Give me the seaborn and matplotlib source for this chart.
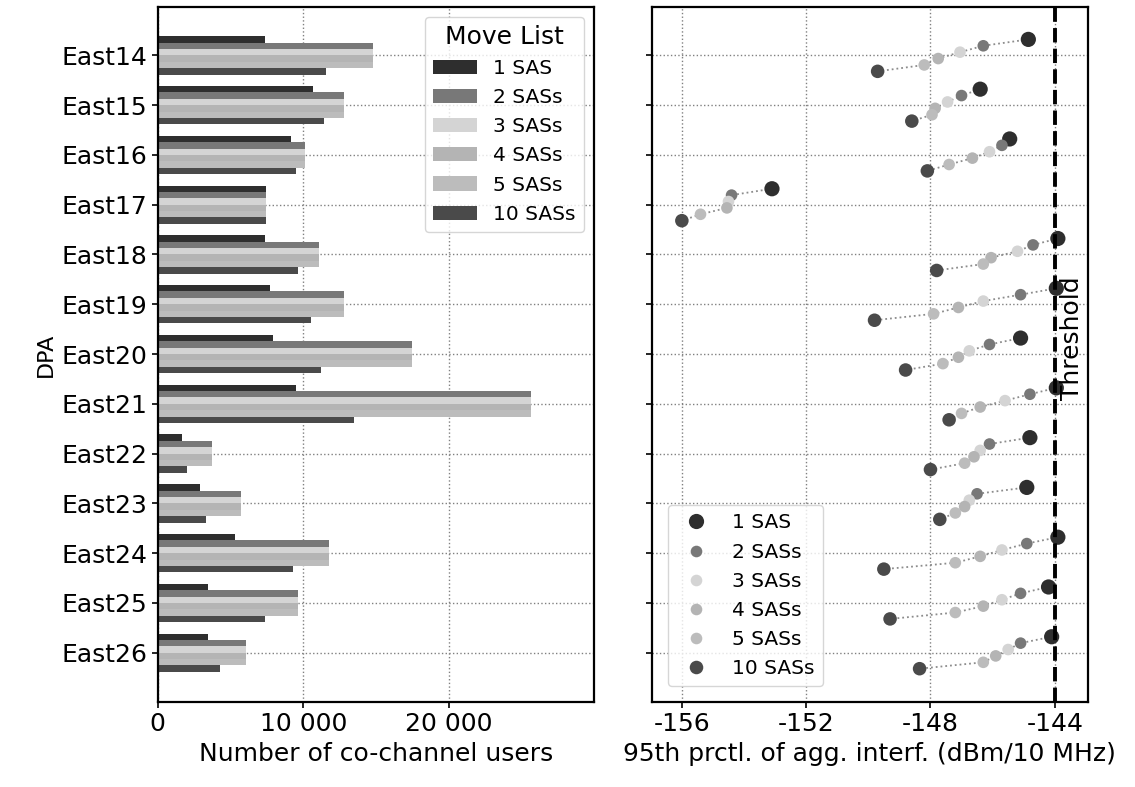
import numpy as np
import pandas as pd
import matplotlib
matplotlib.use("Agg")
import matplotlib.pyplot as plt
import seaborn as sns
from matplotlib.ticker import FuncFormatter

# DPAs and move-list series
dpas = ["East14", "East15", "East16", "East17", "East18", "East19", "East20",
        "East21", "East22", "East23", "East24", "East25", "East26"]
series = ["1 SAS", "2 SASs", "3 SASs", "4 SASs", "5 SASs", "10 SASs"]

# number of co-channel users (left panel)
users_1 = [7350, 10660, 9180, 7420, 7350, 7690, 7920, 9520, 1640, 2900, 5290, 3470, 3470]
users_2 = [14800, 12830, 10090, 7420, 11110, 12830, 17510, 25680, 3700, 5750, 11800, 9630, 6100]
users_3 = [14800, 12830, 10090, 7420, 11110, 12830, 17510, 25680, 3700, 5750, 11800, 9630, 6100]
users_4 = [14800, 12830, 10090, 7420, 11110, 12830, 17510, 25680, 3700, 5750, 11800, 9630, 6100]
users_5 = [14800, 12830, 10090, 7420, 11110, 12830, 17510, 25680, 3700, 5750, 11800, 9630, 6100]
users_10 = [11560, 11460, 9520, 7420, 9630, 10550, 11230, 13510, 1990, 3350, 9290, 7350, 4270]

# 95th percentile of aggregate interference, dBm/10 MHz (right panel)
interf_1 = [-144.85, -146.4, -145.45, -153.1, -143.9, -143.95, -145.1, -143.95, -144.8, -144.9, -143.9, -144.2, -144.1]
interf_2 = [-146.3, -147.0, -145.7, -154.4, -144.7, -145.1, -146.1, -144.8, -146.1, -146.5, -144.9, -145.1, -145.1]
interf_3 = [-147.05, -147.45, -146.1, -154.5, -145.2, -146.3, -146.75, -145.6, -146.4, -146.75, -145.7, -145.7, -145.5]
interf_4 = [-147.75, -147.85, -146.65, -154.55, -146.05, -147.1, -147.1, -146.4, -146.6, -146.9, -146.4, -146.3, -145.9]
interf_5 = [-148.2, -147.95, -147.4, -155.4, -146.3, -147.9, -147.6, -147.0, -146.9, -147.2, -147.2, -147.2, -146.3]
interf_10 = [-149.7, -148.6, -148.1, -156.0, -147.8, -149.8, -148.8, -147.4, -148.0, -147.7, -149.5, -149.3, -148.35]

threshold = -144

colors = {"1 SAS": "#2e2e2e", "2 SASs": "#787878", "3 SASs": "#d4d4d4",
          "4 SASs": "#b4b4b4", "5 SASs": "#bcbcbc", "10 SASs": "#4a4a4a"}
sizes = {"1 SAS": 120, "2 SASs": 70, "3 SASs": 70, "4 SASs": 70, "5 SASs": 70, "10 SASs": 95}

users = [users_1, users_2, users_3, users_4, users_5, users_10]
interf = [interf_1, interf_2, interf_3, interf_4, interf_5, interf_10]

group_w = 0.77
rows = []
for k, s in enumerate(series):
    for i, d in enumerate(dpas):
        rows.append({"DPA": d, "series": s, "users": users[k][i], "interf": interf[k][i],
                     "idx": i, "ypos": i + (k - 2.5) * group_w / len(series)})
df = pd.DataFrame(rows)

sns.set_theme(style="ticks")
plt.rcParams["font.family"] = ["DejaVu Sans"]
plt.rcParams["axes.unicode_minus"] = False
for key in ["text.color", "axes.labelcolor", "xtick.color", "ytick.color"]:
    plt.rcParams[key] = "black"

fig = plt.figure(figsize=(11.35, 7.87), dpi=100)
ax1 = fig.add_axes([0.139, 0.108, 0.3844, 0.883])
ax2 = fig.add_axes([0.5742, 0.108, 0.3844, 0.883], sharey=ax1)

# left: grouped horizontal bars
sns.barplot(data=df, x="users", y="DPA", hue="series", hue_order=series, order=dpas,
            palette=colors, width=group_w, linewidth=0, saturation=1, ax=ax1)
ax1.set_xlim(0, 30000)
ax1.set_xticks([0, 10000, 20000])
ax1.xaxis.set_major_formatter(FuncFormatter(lambda v, p: f"{int(v):,}".replace(",", " ")))
ax1.set_xlabel("Number of co-channel users", fontsize=18)
ax1.set_ylabel("DPA", fontsize=16)
sns.move_legend(ax1, "upper right", title="Move List", fontsize=14.5, title_fontsize=18,
                frameon=True, fancybox=True, handlelength=2.2)

# right: dots per DPA, connected by dotted lines
sns.lineplot(data=df, x="interf", y="ypos", units="idx", estimator=None, sort=False,
             color="0.55", linestyle=":", linewidth=1.3, ax=ax2, legend=False)
sns.scatterplot(data=df, x="interf", y="ypos", hue="series", hue_order=series, palette=colors,
                size="series", sizes=sizes, size_order=series, linewidth=0, alpha=1,
                zorder=3, ax=ax2)
ax2.axvline(threshold, color="black", linestyle="--", linewidth=2.8, zorder=4)
ax2.text(threshold + 0.55, 5.69, "Threshold", rotation=90, ha="center", va="center", fontsize=18)
ax2.set_xlim(-156.97, -142.93)
ax2.set_xticks([-156, -152, -148, -144])
ax2.set_xlabel("95th prctl. of agg. interf. (dBm/10 MHz)", fontsize=18)
ax2.set_ylabel("")
ax2.tick_params(labelleft=False)
sns.move_legend(ax2, "lower left", title=None, fontsize=14.5, frameon=True, fancybox=True,
                borderaxespad=0.8)

for ax in (ax1, ax2):
    ax.grid(True, linestyle=":", color="0.5", linewidth=1.0)
    ax.set_axisbelow(True)
    ax.tick_params(labelsize=18, length=4, width=1.2)
    for sp in ax.spines.values():
        sp.set_linewidth(1.6)
        sp.set_color("black")

ax1.set_yticks(range(len(dpas)))
ax1.set_yticklabels(dpas)
ax1.set_ylim(12.99, -0.97)

fig.savefig("out.png", dpi=100)
